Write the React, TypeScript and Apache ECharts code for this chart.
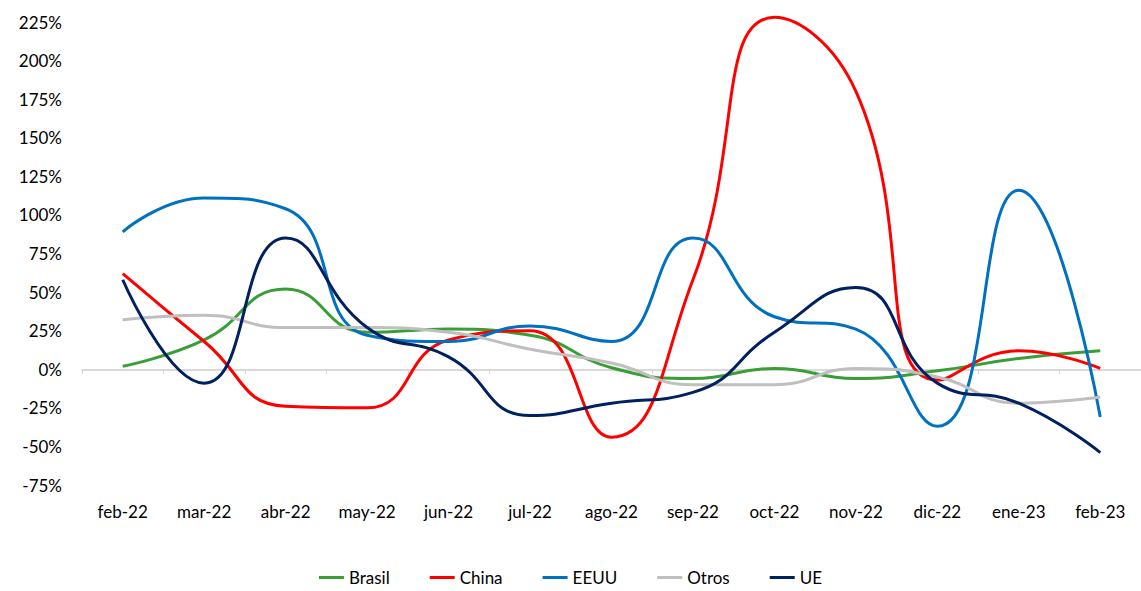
import React, { useEffect, useRef } from "react";
import * as echarts from "echarts";

const categories = ["feb-22","mar-22","abr-22","may-22","jun-22","jul-22","ago-22","sep-22","oct-22","nov-22","dic-22","ene-23","feb-23"];
const brasil = [2, 19, 52, 24, 26, 22, 1, -6, 0.5, -6, -1, 7, 12];
const china = [62, 18, -24, -25, 19, 25, -44, 58, 228, 180, -7, 12, 0.5];
const eeuu = [89, 111, 104, 22, 18, 28, 18, 85, 34, 26, -37, 116, -31];
const otros = [32, 35, 27, 27, 24, 13, 4, -10, -10, 0.5, -5, -22, -18];
const ue = [58, -9, 85, 27, 8, -30, -22, -15, 24, 53, -9, -22, -54];

const seriesDefs = [
  { name: "Brasil", data: brasil, color: "#3A9E37" },
  { name: "China", data: china, color: "#FF0000" },
  { name: "EEUU", data: eeuu, color: "#0070C0" },
  { name: "Otros", data: otros, color: "#BFBFBF" },
  { name: "UE", data: ue, color: "#002060" },
];

const FONT = "Lato";

export default function App() {
  const ref = useRef<HTMLDivElement>(null);
  useEffect(() => {
    if (!ref.current) return;
    const chart = echarts.init(ref.current, undefined, { renderer: "svg" });
    chart.setOption({
      animation: false,
      backgroundColor: "#fff",
      textStyle: { fontFamily: FONT },
      grid: { left: 82, right: -11, top: 22, bottom: 106, containLabel: false },
      legend: {
        bottom: 0,
        left: "center",
        icon: "rect",
        itemWidth: 25,
        itemHeight: 3,
        itemGap: 40,
        textStyle: { fontFamily: FONT, fontSize: 17, color: "#000" },
        data: seriesDefs.map((s) => s.name),
      },
      xAxis: [
        {
          type: "category",
          data: categories,
          position: "bottom",
          axisLine: { onZero: true, lineStyle: { color: "#D9D9D9", width: 2 } },
          axisTick: { show: true, length: 5, lineStyle: { color: "#D9D9D9", width: 1 } },
          axisLabel: { show: false },
          splitLine: { show: false },
        },
        {
          type: "category",
          data: categories,
          position: "bottom",
          axisLine: { show: false, onZero: false },
          axisTick: { show: false },
          axisLabel: { show: true, margin: 18, fontFamily: FONT, fontSize: 17, color: "#000" },
          splitLine: { show: false },
        },
      ],
      yAxis: {
        type: "value",
        min: -75,
        max: 225,
        interval: 25,
        axisLine: { show: false },
        axisTick: { show: false },
        splitLine: { show: false },
        axisLabel: {
          margin: 20,
          fontFamily: FONT,
          fontSize: 17,
          color: "#000",
          formatter: (v: number) => `${v}%`,
        },
      },
      series: seriesDefs.map((s) => ({
        name: s.name,
        type: "line",
        xAxisIndex: 0,
        data: s.data,
        smooth: 0.5,
        clip: false,
        symbol: "none",
        lineStyle: { color: s.color, width: 3 },
        itemStyle: { color: s.color },
      })),
    });
    return () => chart.dispose();
  }, []);
  return (
    <div
      ref={ref}
      style={{ position: "absolute", left: 0, top: 0, width: 1141, height: 591, background: "#fff" }}
    />
  );
}
